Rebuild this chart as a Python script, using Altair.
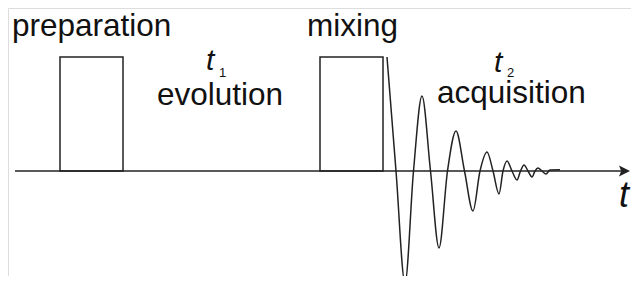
import altair as alt
import pandas as pd

# ---- data (time in arbitrary units, amplitude normalised to pulse height) ----
axis_start = [15]
axis_end = [621]
arrow_t = [624.5]

pulse_start = [60, 320]
pulse_end = [123, 383]
pulse_amp = [1.0, 1.0]

fid_t = [387, 396, 405, 413.5, 422, 430.5, 439, 447.5, 456, 464.5, 473, 480,
         487, 493, 499, 503, 507, 512, 517, 520.5, 524, 528, 532, 535, 538,
         542, 546, 550, 560]
fid_amp = [1.0, 0, -0.982, 0, 0.658, 0, -0.675, 0, 0.351, 0, -0.351, 0,
           0.167, 0, -0.202, 0, 0.088, 0, -0.079, 0, 0.053, 0, -0.053, 0, 0.026,
           0, -0.026, 0.008, 0.01]

labels = ["preparation", "evolution", "mixing", "acquisition"]
label_t = [12, 157, 307, 437]
label_amp = [1.184, 0.579, 1.184, 0.596]

tvar_text = ["t", "t", "t"]
tvar_t = [206, 494, 619]
tvar_amp = [0.886, 0.868, -0.316]
tvar_size = [30, 30, 36]

sub_text = ["1", "2"]
sub_t = [219, 507]
sub_amp = [0.825, 0.825]

# ---- scales (whole canvas, no axes) ----
xs = alt.Scale(domain=[8, 631], nice=False, zero=False)
ys = alt.Scale(domain=[-0.9211, 1.4298], nice=False, zero=False)
LINE = "#222222"
TEXT = "#111111"
FONT = "Liberation Sans, Arial, sans-serif"

X = lambda: alt.X("t:Q", scale=xs, axis=None)
Y = lambda: alt.Y("a:Q", scale=ys, axis=None)

axis_df = pd.DataFrame({"t": axis_start, "t2": axis_end, "a": [0.0]})
base = alt.Chart(axis_df).mark_rule(color=LINE, strokeWidth=1.5).encode(
    x=X(), x2="t2:Q", y=Y())

arrow = alt.Chart(pd.DataFrame({"t": arrow_t, "a": [0.0]})).mark_point(
    shape="M1,0L-1,-1L-0.6,0L-1,1Z", filled=True, size=121, color=LINE, opacity=1
).encode(x=X(), y=Y())

pulse_df = pd.DataFrame({"t": pulse_start, "t2": pulse_end, "a": pulse_amp, "a0": [0.0, 0.0]})
pulses = alt.Chart(pulse_df).mark_rect(fillOpacity=0, stroke=LINE, strokeWidth=1.5).encode(
    x=X(), x2="t2:Q", y=Y(), y2="a0:Q")

fid_df = pd.DataFrame({"t": fid_t, "a": fid_amp})
fid = alt.Chart(fid_df).mark_line(color=LINE, strokeWidth=1.5, interpolate="monotone").encode(
    x=X(), y=Y())

lab_df = pd.DataFrame({"txt": labels, "t": label_t, "a": label_amp})
labs = alt.Chart(lab_df).mark_text(align="left", baseline="alphabetic", font=FONT,
                                   fontSize=31.5, color=TEXT).encode(
    x=X(), y=Y(), text="txt:N")

tv_df = pd.DataFrame({"txt": tvar_text, "t": tvar_t, "a": tvar_amp, "s": tvar_size})
tvars = alt.Chart(tv_df).mark_text(align="left", baseline="alphabetic", font=FONT,
                                   fontStyle="italic", color=TEXT).encode(
    x=X(), y=Y(), text="txt:N", size=alt.Size("s:Q", scale=None, legend=None))

sub_df = pd.DataFrame({"txt": sub_text, "t": sub_t, "a": sub_amp})
subs = alt.Chart(sub_df).mark_text(align="left", baseline="alphabetic", font=FONT,
                                   fontSize=13, color=TEXT).encode(
    x=X(), y=Y(), text="txt:N")

chart = alt.layer(base, arrow, pulses, fid, labs, tvars, subs).properties(
    width=623, height=268, padding=0,
    autosize=alt.AutoSizeParams(type="none")
).configure_view(stroke=None).configure(background="white")

chart.save("out.html", embed_options={"renderer": "svg", "actions": False})
